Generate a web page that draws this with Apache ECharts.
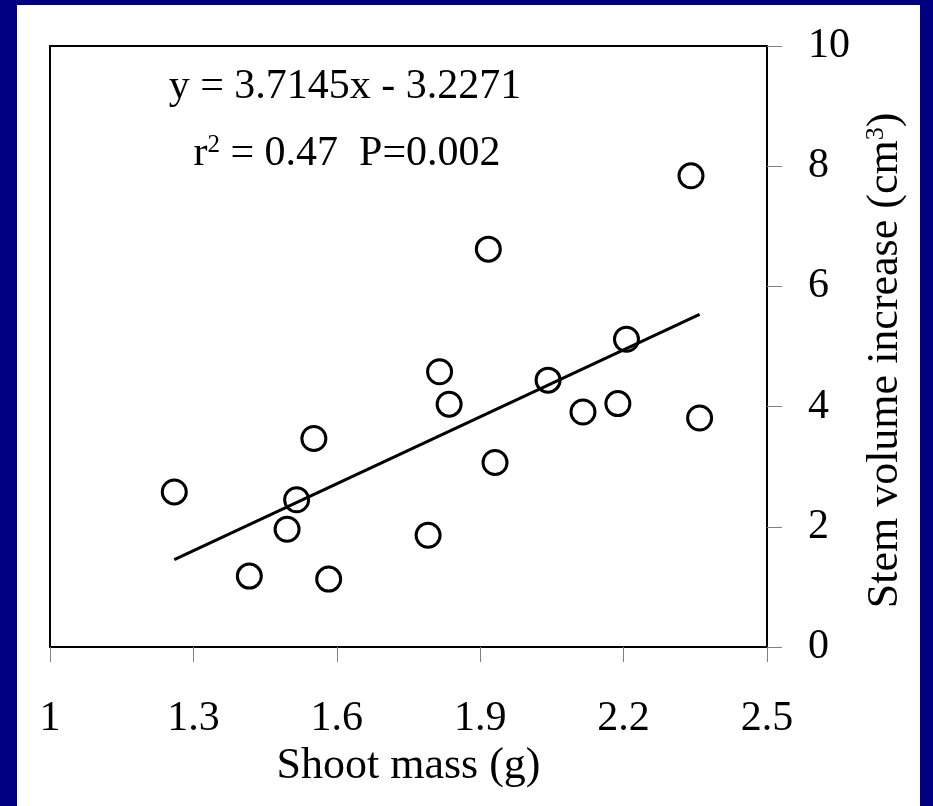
<!DOCTYPE html>
<html><head><meta charset="utf-8">
<script src="https://cdn.jsdelivr.net/npm/echarts@6/dist/echarts.min.js"></script>
<style>
html,body{margin:0;padding:0;background:#000080;overflow:hidden;}
#panel{position:absolute;left:17px;top:5px;width:903px;height:801px;background:#fff;}
#chart{position:absolute;left:0;top:0;width:933px;height:806px;}
</style></head><body>
<div id="panel"></div><div id="chart"></div>
<script>
// Shoot mass (g) and stem volume increase (cm3) per plant
const shootMass  = [1.26, 1.417, 1.496, 1.516, 1.552, 1.583, 1.791, 1.815, 1.835, 1.917, 1.931, 2.042, 2.115, 2.188, 2.206, 2.341, 2.359];
const stemVolume = [2.58, 1.18, 1.96, 2.45, 3.47, 1.13, 1.86, 4.58, 4.04, 6.62, 3.07, 4.44, 3.91, 4.05, 5.12, 7.84, 3.81];

// Least-squares fit reported on the chart
const fitSlope = 3.7145;
const fitIntercept = -3.2271;
const fitLabel = 'y = 3.7145x - 3.2271';

const xTicks = [1, 1.3, 1.6, 1.9, 2.2, 2.5];
const yTicks = [0, 2, 4, 6, 8, 10];

const FONT = '"Liberation Serif", "Times New Roman", serif';

const points = shootMass.map((x, i) => [x, stemVolume[i]]);
const xLo = Math.min(...shootMass), xHi = Math.max(...shootMass);
const fitLine = [xLo, xHi].map(x => [x, fitSlope * x + fitIntercept]);

const chart = echarts.init(document.getElementById('chart'), null, {renderer: 'canvas'});
chart.setOption({
  backgroundColor: 'transparent',
  animation: false,
  grid: {left: 50, right: 166, top: 46, bottom: 159, show: true,
         borderColor: '#000', borderWidth: 2, backgroundColor: 'transparent'},
  xAxis: {
    type: 'value', min: xTicks[0], max: xTicks[xTicks.length - 1],
    axisLine: {show: false},
    splitLine: {show: false},
    axisTick: {show: true, length: 15, customValues: xTicks, lineStyle: {color: '#808080', width: 1}},
    axisLabel: {customValues: xTicks, margin: 51, color: '#000', fontFamily: FONT, fontSize: 42},
    name: 'Shoot mass (g)', nameLocation: 'middle', nameGap: 91,
    nameTextStyle: {color: '#000', fontFamily: FONT, fontSize: 44}
  },
  yAxis: {
    type: 'value', position: 'right', min: yTicks[0], max: yTicks[yTicks.length - 1], interval: 2,
    axisLine: {show: false},
    splitLine: {show: false},
    axisTick: {show: true, length: 15, lineStyle: {color: '#808080', width: 1}},
    axisLabel: {margin: 41, color: '#000', fontFamily: FONT, fontSize: 42, align: 'left'},
    name: 'Stem volume increase (cm{sup|3})', nameLocation: 'middle', nameRotate: 90, nameGap: 96,
    nameTextStyle: {color: '#000', fontFamily: FONT, fontSize: 44, padding: [0, 28, 0, 0],
      rich: {sup: {fontFamily: FONT, fontSize: 26, color: '#000', verticalAlign: 'top'}}}
  },
  series: [
    {
      type: 'line', data: fitLine, symbol: 'none', silent: true,
      lineStyle: {color: '#000', width: 3}, z: 2
    },
    {
      type: 'scatter', data: points, symbol: 'circle', symbolSize: 24,
      itemStyle: {color: 'rgba(0,0,0,0)', borderColor: '#000', borderWidth: 3, opacity: 1}, z: 3
    }
  ],
  graphic: [
    {type: 'text', x: 345, y: 87,
     style: {text: fitLabel, fill: '#000', font: '42px ' + FONT, textAlign: 'center', textVerticalAlign: 'middle'}},
    {type: 'text', x: 347, y: 154,
     style: {text: '{b|r}{s|2}{b| = 0.47  P=0.002}', fill: '#000', textAlign: 'center', textVerticalAlign: 'middle',
       rich: {b: {fontFamily: FONT, fontSize: 42, fill: '#000'},
              s: {fontFamily: FONT, fontSize: 25, fill: '#000', verticalAlign: 'top'}}}}
  ]
});
</script>
</body></html>
